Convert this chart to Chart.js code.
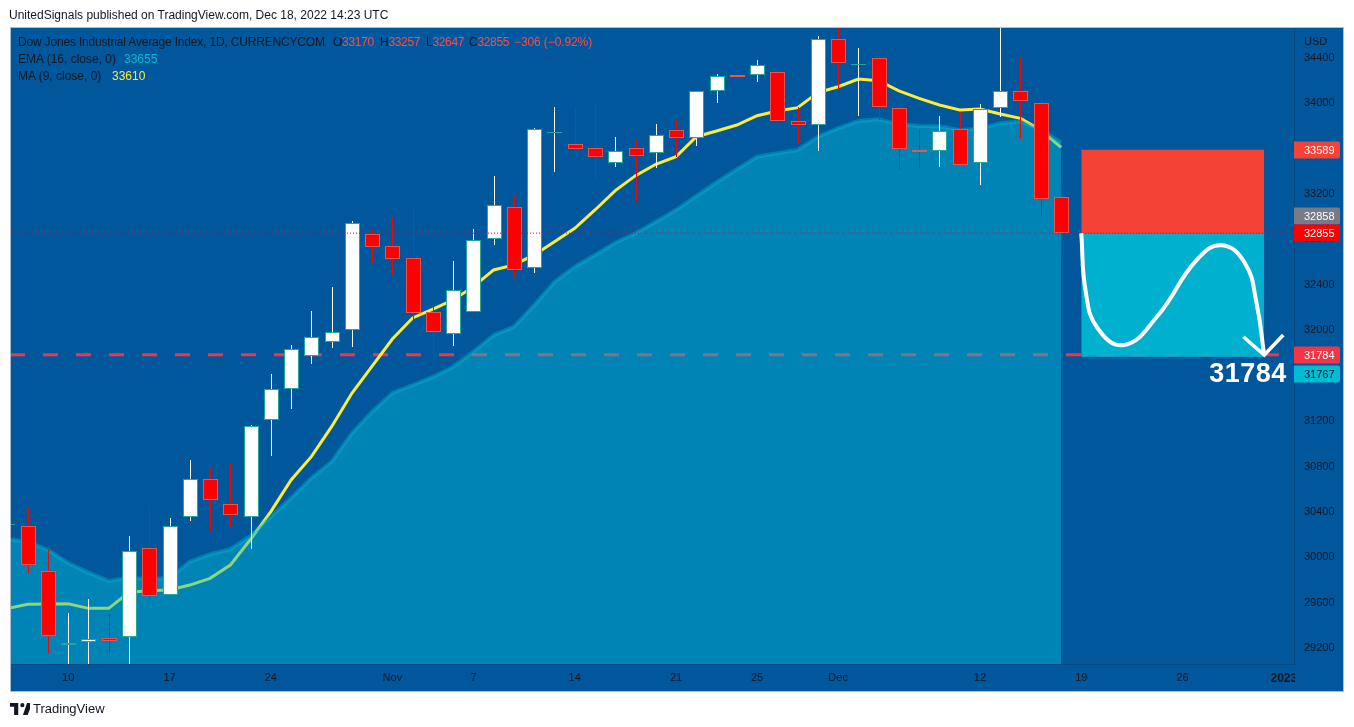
<!DOCTYPE html>
<html>
<head>
<meta charset="utf-8">
<title>Dow Jones Industrial Average Index</title>
<script src="https://cdn.jsdelivr.net/npm/chart.js@4"></script>
<style>
    html, body { margin: 0; padding: 0; background: #fff; }
    body { width: 1354px; height: 727px; position: relative; overflow: hidden; font-family: "Liberation Sans", sans-serif; font-size: 12px; color: #131722; }
    canvas { position: absolute; left: 0; top: 0; }
    .txt { position: absolute; white-space: nowrap; line-height: 14px; }
    .red { color: #ff4a4a; }
</style>
</head>
<body>
<canvas id="chart" width="1354" height="727"></canvas>

<div class="txt" style="left:9px;top:8px">UnitedSignals published on TradingView.com, Dec 18, 2022 14:23 UTC</div>

<div class="txt" style="left:18px;top:35px;letter-spacing:-0.18px">Dow Jones Industrial Average Index, 1D, CURRENCYCOM</div>
<div class="txt" style="left:333px;top:35px;letter-spacing:-0.3px">O<span class="red">33170</span></div>
<div class="txt" style="left:380px;top:35px;letter-spacing:-0.3px">H<span class="red">33257</span></div>
<div class="txt" style="left:426px;top:35px;letter-spacing:-0.3px">L<span class="red">32647</span></div>
<div class="txt" style="left:469px;top:35px;letter-spacing:-0.3px">C<span class="red">32855</span></div>
<div class="txt red" style="left:514px;top:35px;letter-spacing:-0.1px">−306 (−0.92%)</div>
<div class="txt" style="left:18px;top:52px">EMA (16, close, 0)</div>
<div class="txt" style="left:124px;top:52px;color:#00bcd4">33655</div>
<div class="txt" style="left:18px;top:69px">MA (9, close, 0)</div>
<div class="txt" style="left:112px;top:69px;color:#ffeb3b">33610</div>
<div class="txt" style="left:1304px;top:34px;font-size:11px">USD</div>

<svg style="position:absolute;left:10px;top:703px" width="20" height="12" viewBox="0 0 34 20">
    <path fill="#131722" d="M14 0H0v6h7v14h7V0zm16 20h-8l7-20h9l-8 20zm-9-13a3.5 3.5 0 1 0 0-7 3.5 3.5 0 0 0 0 7z"/>
</svg>
<div class="txt" style="left:33px;top:702px;font-size:13px">TradingView</div>

<script>
// candles, index -1 sits half off the left edge
const firstIndex = -1;
const opens = [30282, 30274, 29878, 29226, 29253, 29291, 29300, 30080, 29669, 30359, 30688, 30470, 30359,
    31213, 31486, 31771, 31894, 32002, 32850, 32739, 32634, 32158, 31965, 32158, 32801, 33083, 32546, 33733,
    33637, 33602, 33470, 33602, 33558, 33761, 33690, 34104, 34247, 34245, 34271, 33840, 33805, 34562, 34337,
    34394, 33954, 33587, 33576, 33769, 33470, 33954, 34104, 33998, 33170];
const highs = [30340, 30441, 30066, 29508, 29634, 29502, 30189, 30453, 30345, 30858, 30794, 30829, 31166,
    31615, 31870, 32170, 32378, 32962, 32883, 32995, 33079, 32237, 32610, 32892, 33358, 33191, 33781, 33966,
    33963, 34007, 33702, 33681, 33816, 33857, 34104, 34256, 34283, 34379, 34312, 33968, 34591, 34680, 34485,
    34417, 34033, 33772, 33886, 33924, 33992, 34700, 34400, 34063, 33257];
const lows = [30200, 29866, 29156, 29030, 29030, 29156, 29030, 29631, 29669, 30321, 30233, 30271, 30077,
    30893, 31307, 31703, 31841, 31855, 32590, 32484, 32090, 31715, 31864, 32158, 32753, 32472, 32507, 33396,
    33540, 33317, 33440, 33141, 33431, 33528, 33622, 34001, 34210, 34186, 33798, 33646, 33578, 34121, 33886,
    33851, 33420, 33431, 33440, 33452, 33279, 33880, 33684, 33009, 32647];
const closes = [30294, 29931, 29306, 29244, 29285, 29267, 30059, 29658, 30279, 30688, 30508, 30376, 31155,
    31480, 31832, 31943, 31987, 32947, 32730, 32625, 32149, 31982, 32352, 32792, 33100, 32528, 33769, 33745,
    33599, 33528, 33576, 33537, 33717, 33690, 34104, 34236, 34230, 34338, 33840, 33810, 34562, 34350, 34346,
    33963, 33593, 33569, 33757, 33452, 33945, 34104, 34016, 33153, 32855];

const maValues = [29550, 29588, 29590, 29593, 29552, 29552, 29693, 29707, 29713, 29757, 29816, 29933, 30160,
    30403, 30682, 30887, 31151, 31445, 31685, 31923, 32108, 32187, 32267, 32384, 32531, 32575, 32663, 32780,
    32898, 33059, 33229, 33361, 33461, 33528, 33704, 33754, 33807, 33889, 33930, 33960, 34092, 34144, 34212,
    34197, 34107, 34042, 33983, 33939, 33948, 33904, 33866, 33763, 33610];
const emaValues = [30162, 30139, 30066, 29951, 29866, 29793, 29822, 29808, 29819, 29963, 30028, 30072, 30189,
    30359, 30523, 30699, 30843, 31093, 31283, 31448, 31518, 31589, 31679, 31811, 31958, 32031, 32222, 32425,
    32560, 32663, 32771, 32854, 32956, 33059, 33182, 33303, 33417, 33528, 33558, 33587, 33704, 33778, 33842,
    33857, 33813, 33798, 33796, 33763, 33775, 33822, 33840, 33763, 33655];

const priceTicks = [29200, 29600, 30000, 30400, 30800, 31200, 31600, 32000, 32400, 32800, 33200, 33600, 34000, 34400];
const timeTickIndex = [2, 7, 12, 18, 22, 27, 32, 36, 40, 47, 52, 57, 62];
const timeTickLabels = ["10", "17", "24", "Nov", "7", "14", "21", "25", "Dec", "12", "19", "26", "2023"];

// short position drawing and the hand drawn path
const stopPrice = 33589;
const entryPrice = 32855;
const targetPrice = 31767;
const supportPrice = 31784;
const boxFrom = 52;
const boxTo = 61.03;
const supportTo = 61.76;
const pathIndex = [52, 52.22, 52.8, 54.11, 55.73, 57.7, 58.93, 60.08, 60.65, 61.03];
const pathPrice = [32854, 32340, 32020, 31870, 32119, 32619, 32748, 32590, 32240, 31782];
const arrowIndex = [60, 61.03, 61.97];
const arrowPrice = [31943, 31782, 31958];

const priceTags = [
    { text: "33589", value: 33589, shift: 0, bg: "#f44336", fg: "#fff" },
    { text: "32858", value: 32858, shift: -17, bg: "#787b86", fg: "#fff" },
    { text: "32855", value: 32855, shift: 0, bg: "#ff0000", fg: "#fff" },
    { text: "31784", value: 31784, shift: 0, bg: "#f23645", fg: "#fff" },
    { text: "31767", value: 31767, shift: 17, bg: "#00bcd4", fg: "#131722" },
];

const X_MIN = -0.824;
const X_MAX = 62.5;
const Y_MIN = 29062;
const Y_MAX = 34661;
const BG = "#01579b";
const TEXT = "#131722";
const LINE = "rgba(19,23,34,0.22)";

const idx = (i) => i + firstIndex;
const isUp = (i) => closes[i] >= opens[i];

const bodies = opens.map((o, i) => ({ x: idx(i), y: [o, closes[i]] }));
const wicks = highs.map((h, i) => ({ x: idx(i), y: [lows[i], h] }));
const line = (values) => values.map((v, i) => ({ x: idx(i), y: v }));
const flat = (from, to, value) => [{ x: from, y: value }, { x: to, y: value }];

// keep candles on whole pixels so the 1px wicks stay sharp
const snapPlugin = {
    id: "snap",
    afterDatasetsUpdate(chart) {
        chart.getSortedVisibleDatasetMetas().forEach((meta) => {
            if (meta.type !== "bar") return;
            meta.data.forEach((bar) => {
                bar.x = Math.round(bar.x) + 0.5;
                const top = Math.round(Math.min(bar.y, bar.base));
                const bottom = Math.max(Math.round(Math.max(bar.y, bar.base)), top + 1);
                bar.y = top;
                bar.base = bottom;
                bar.height = bottom - top;
            });
        });
    },
};

const framePlugin = {
    id: "frame",
    beforeDraw(chart) {
        const ctx = chart.ctx;
        ctx.save();
        ctx.fillStyle = BG;
        ctx.fillRect(10, 27, 1334, 664);
        ctx.strokeStyle = "#a8bdd6";
        ctx.lineWidth = 1;
        ctx.strokeRect(10.5, 27.5, 1333, 664);
        ctx.restore();
    },
    afterDraw(chart) {
        const ctx = chart.ctx;
        const y = chart.scales.y;
        const x = chart.scales.x;
        ctx.save();
        // the year label is cut by the price axis
        ctx.fillStyle = BG;
        ctx.fillRect(1295, 665, 48, 26);

        ctx.font = "11px 'Liberation Sans'";
        ctx.textBaseline = "middle";
        priceTags.forEach((tag) => {
            const py = Math.round(y.getPixelForValue(tag.value)) + tag.shift;
            ctx.fillStyle = tag.bg;
            ctx.beginPath();
            ctx.roundRect(1294, py - 8.5, 46, 17, [0, 2, 2, 0]);
            ctx.fill();
            ctx.fillStyle = tag.fg;
            ctx.fillText(tag.text, 1304, py + 0.5);
        });

        ctx.fillStyle = "#fff";
        ctx.font = "bold 27px 'Liberation Sans'";
        ctx.letterSpacing = "0.5px";
        ctx.textAlign = "right";
        ctx.fillText(String(supportPrice), x.getPixelForValue(62.14), y.getPixelForValue(supportPrice) + 20);
        ctx.restore();
    },
};

new Chart(document.getElementById("chart").getContext("2d"), {
    type: "bar",
    data: {
        datasets: [
            { type: "line", data: pathIndex.map((v, i) => ({ x: v, y: pathPrice[i] })), borderColor: "#fff", borderWidth: 4, tension: 0.45, pointRadius: 0, order: 0 },
            { type: "line", data: arrowIndex.map((v, i) => ({ x: v, y: arrowPrice[i] })), borderColor: "#fff", borderWidth: 3.5, pointRadius: 0, order: 0 },
            { type: "line", data: flat(X_MIN, X_MAX, entryPrice), borderColor: "#ff0000", borderWidth: 1, borderDash: [1, 2], pointRadius: 0, order: 1 },
            { data: bodies, backgroundColor: opens.map((o, i) => isUp(i) ? "#ffffff" : "#ff0000"), borderColor: opens.map((o, i) => isUp(i) ? "#26a69a" : "#ef5350"), borderWidth: 1, borderSkipped: false, inflateAmount: 0, barThickness: 15, grouped: false, order: 2 },
            { data: wicks, backgroundColor: opens.map((o, i) => isUp(i) ? "#ffffff" : "#ff0000"), borderWidth: 0, inflateAmount: 0, barThickness: 1, grouped: false, order: 3 },
            { type: "line", data: flat(boxFrom, boxTo, stopPrice), borderWidth: 0, pointRadius: 0, fill: { value: entryPrice }, backgroundColor: "#f44336", order: 4 },
            { type: "line", data: flat(boxFrom, boxTo, entryPrice), borderWidth: 0, pointRadius: 0, fill: { value: targetPrice }, backgroundColor: "rgba(0,185,212,0.92)", order: 4 },
            { type: "line", data: line(emaValues), borderColor: "rgba(0,188,212,0.4)", borderWidth: 4, pointRadius: 0, fill: "start", backgroundColor: "rgba(0,188,212,0.45)", order: 5 },
            { type: "line", data: line(maValues), borderColor: "#ffeb3b", borderWidth: 3, pointRadius: 0, order: 6 },
            { type: "line", data: flat(X_MIN, supportTo, supportPrice), borderColor: "#f23645", borderWidth: 3, borderDash: [15, 18], borderDashOffset: 1, pointRadius: 0, order: 7 },
        ],
    },
    options: {
        responsive: false,
        animation: false,
        devicePixelRatio: 1,
        events: [],
        layout: { padding: { left: 11, right: 10, top: 28, bottom: 36 } },
        plugins: { legend: { display: false }, tooltip: { enabled: false } },
        scales: {
            x: {
                type: "linear",
                offset: false,
                min: X_MIN,
                max: X_MAX,
                grid: { display: false, drawTicks: false, offset: false },
                border: { display: true, color: LINE },
                afterBuildTicks(scale) {
                    scale.ticks = timeTickIndex.map((v) => ({ value: v }));
                },
                afterFit(scale) {
                    scale.height = 27;
                },
                ticks: {
                    autoSkip: false,
                    maxRotation: 0,
                    padding: 7,
                    color: TEXT,
                    font: (c) => (c.tick && c.tick.value === 62
                        ? { family: "'Liberation Sans'", size: 12, weight: "bold" }
                        : { family: "'Liberation Sans'", size: 11, weight: "normal" }),
                    callback: (v) => timeTickLabels[timeTickIndex.indexOf(v)],
                },
            },
            y: {
                position: "right",
                min: Y_MIN,
                max: Y_MAX,
                grid: { display: false, drawTicks: false },
                border: { display: true, color: LINE },
                afterBuildTicks(scale) {
                    scale.ticks = priceTicks.map((v) => ({ value: v }));
                },
                afterFit(scale) {
                    scale.width = 50;
                },
                ticks: {
                    autoSkip: false,
                    padding: 10,
                    color: TEXT,
                    font: { family: "'Liberation Sans'", size: 11 },
                    callback: (v) => String(v),
                },
            },
        },
    },
    plugins: [snapPlugin, framePlugin],
});
</script>
</body>
</html>
